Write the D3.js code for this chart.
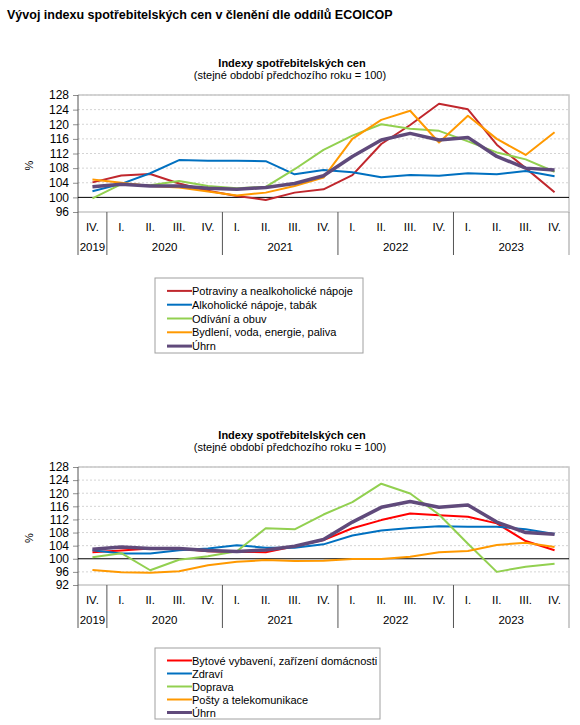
<!DOCTYPE html>
<html>
<head>
<meta charset="utf-8">
<script src="https://cdn.jsdelivr.net/npm/d3@7"></script>
<style>
  body{margin:0;background:#fff;font-family:"Liberation Sans",Arial,sans-serif;}
  svg text{font-family:"Liberation Sans",Arial,sans-serif;fill:#000;}
</style>
</head>
<body>
<svg id="chart" width="580" height="725"></svg>
<script>
//Data
const quarters = ["IV.","I.","II.","III.","IV.","I.","II.","III.","IV.","I.","II.","III.","IV.","I.","II.","III.","IV."]
const yearLabels = ["2019","2020","2021","2022","2023"]
const yearSpans = [1,4,4,4,4]

// chart 1
const potraviny = [104.1,106.0,106.4,103.8,101.8,100.4,99.3,101.3,102.2,106.1,114.6,119.8,125.6,124.1,114.4,108.0,101.4]
const alkohol   = [101.7,103.7,106.6,110.2,110.0,110.0,109.9,106.3,107.5,106.9,105.5,106.1,105.9,106.6,106.3,107.2,105.8]
const odivani   = [99.7,103.6,103.3,104.5,103.1,102.5,102.9,107.7,113.0,116.9,120.0,118.8,118.2,115.3,112.3,110.4,107.0]
const bydleni   = [104.9,104.0,103.1,102.7,101.6,100.5,101.3,103.1,105.4,116.0,121.2,123.7,115.0,122.3,116.0,111.6,117.8]
const uhrn      = [102.9,103.6,103.1,103.1,102.5,102.2,102.7,103.8,105.9,111.2,115.7,117.5,115.7,116.4,111.2,108.0,107.5]

// chart 2
const bytove  = [102.0,102.5,103.1,103.1,102.3,102.1,102.0,103.8,105.7,109.3,111.8,113.8,113.3,112.8,110.8,105.4,102.6]
const zdravi  = [102.6,101.6,101.6,102.6,103.1,104.1,103.4,103.4,104.4,107.1,108.6,109.4,109.9,109.8,109.8,109.0,107.6]
const doprava = [100.5,101.7,96.5,99.7,100.8,102.3,109.3,109.0,113.5,117.3,122.9,119.9,113.5,104.6,96.0,97.6,98.5]
const posty   = [96.6,95.9,95.7,96.2,98.0,99.1,99.6,99.3,99.4,99.9,99.9,100.6,102.0,102.4,104.2,104.9,103.6]

const ticks1 = [96,100,104,108,112,116,120,124,128]
const ticks2 = [92,96,100,104,108,112,116,120,124,128]

const svg = d3.select("#chart")

svg.append("text")
  .attr("x",7).attr("y",19)
  .attr("font-size","12.5px").attr("font-weight","bold")
  .text("Vývoj indexu spotřebitelských cen v členění dle oddílů ECOICOP")

const chart1 = {
  top:95, bottom:212, domain:[96,128], ticks:ticks1,
  series:[
    {name:"Potraviny a nealkoholické nápoje", values:potraviny, color:"#c0272d", w:2},
    {name:"Alkoholické nápoje, tabák", values:alkohol, color:"#0070c0", w:2},
    {name:"Odívání a obuv", values:odivani, color:"#92d050", w:2},
    {name:"Bydlení, voda, energie, paliva", values:bydleni, color:"#ff9900", w:2},
    {name:"Úhrn", values:uhrn, color:"#604a7b", w:3.5}
  ],
  legend:{x:155, y:278, w:208, h:75}
}
const chart2 = {
  top:467, bottom:585, domain:[92,128], ticks:ticks2,
  series:[
    {name:"Bytové vybavení, zařízení domácnosti", values:bytove, color:"#ff0000", w:2},
    {name:"Zdraví", values:zdravi, color:"#0070c0", w:2},
    {name:"Doprava", values:doprava, color:"#92d050", w:2},
    {name:"Pošty a telekomunikace", values:posty, color:"#ff9900", w:2},
    {name:"Úhrn", values:uhrn, color:"#604a7b", w:3.5}
  ],
  legend:{x:155, y:648, w:225, h:71}
}

drawChart(chart1)
drawChart(chart2)

function drawChart(c){
  const left=78, right=569
  const g = svg.append("g")
  const x = d3.scaleBand().domain(d3.range(quarters.length)).range([left,right]).paddingInner(0).paddingOuter(0)
  const y = d3.scaleLinear().domain(c.domain).range([c.bottom,c.top])
  const cx = i => x(i)+x.bandwidth()/2

  // titles
  g.append("text").attr("x",292).attr("y",c.top-28)
    .attr("text-anchor","middle").attr("font-size","11px").attr("font-weight","bold")
    .text("Indexy spotřebitelských cen")
  g.append("text").attr("x",290).attr("y",c.top-16)
    .attr("text-anchor","middle").attr("font-size","11px")
    .text("(stejné období předchozího roku = 100)")

  // grid
  g.selectAll(".grid").data(c.ticks.filter(t=>t!==c.domain[0] && t!==100)).join("line")
    .attr("x1",left).attr("x2",right)
    .attr("y1",d=>y(d)).attr("y2",d=>y(d))
    .attr("stroke","#d4d4d4").attr("stroke-dasharray","2,2")

  // plot frame (top, right, bottom)
  g.append("path")
    .attr("d",`M${left},${c.top}H${right}V${c.bottom}H${left}`)
    .attr("fill","none").attr("stroke","#c8c8c8").attr("stroke-width",1.5)

  // y axis
  const yAxis = d3.axisLeft(y).tickValues(c.ticks).tickSize(5).tickPadding(4)
  const ya = g.append("g").attr("transform",`translate(${left},0)`).call(yAxis)
  ya.select(".domain").remove()
  ya.selectAll(".tick line").attr("stroke","#909090")
  ya.selectAll(".tick text").attr("font-size","12px").attr("fill","#000")
  g.append("line").attr("x1",left).attr("x2",left).attr("y1",c.top).attr("y2",c.bottom+43)
    .attr("stroke","#555")

  g.append("text")
    .attr("transform",`translate(33,${(c.top+c.bottom)/2+12}) rotate(-90)`)
    .attr("text-anchor","middle").attr("font-size","11px").text("%")

  // baseline 100
  g.append("line").attr("x1",left).attr("x2",right).attr("y1",y(100)).attr("y2",y(100))
    .attr("stroke","#000").attr("stroke-width",1)

  // category axis
  g.selectAll(".q").data(quarters).join("text")
    .attr("x",(d,i)=>cx(i)).attr("y",c.bottom+19)
    .attr("text-anchor","middle").attr("font-size","11.5px").text(d=>d)
  let start=0
  yearLabels.forEach((yr,k)=>{
    const n=yearSpans[k]
    const x0=x(start), x1=x(start+n-1)+x.bandwidth()
    g.append("text").attr("x",(x0+x1)/2).attr("y",c.bottom+39)
      .attr("text-anchor","middle").attr("font-size","11.5px").text(yr)
    if(start>0){
      g.append("line").attr("x1",x0).attr("x2",x0).attr("y1",c.bottom).attr("y2",c.bottom+43)
        .attr("stroke","#555")
    }
    start+=n
  })
  g.append("line").attr("x1",right).attr("x2",right).attr("y1",c.bottom).attr("y2",c.bottom+43)
    .attr("stroke","#999")

  // lines
  const line = d3.line().x((d,i)=>cx(i)).y(d=>y(d))
  c.series.forEach(s=>{
    g.append("path").datum(s.values)
      .attr("d",line).attr("fill","none")
      .attr("stroke",s.color).attr("stroke-width",s.w)
      .attr("stroke-linejoin","round")
  })

  // legend
  const L=c.legend
  const lg = g.append("g").attr("transform",`translate(${L.x},${L.y})`)
  lg.append("rect").attr("width",L.w).attr("height",L.h)
    .attr("fill","#fff").attr("stroke","#a0a0a0")
  const step=(L.h-6)/c.series.length
  c.series.forEach((s,i)=>{
    const yy=7+step*i+step/2-1
    lg.append("line").attr("x1",12).attr("x2",37).attr("y1",yy).attr("y2",yy)
      .attr("stroke",s.color).attr("stroke-width",s.w>3?3:2)
    lg.append("text").attr("x",37).attr("y",yy+4).attr("font-size","11px").text(s.name)
  })
}
</script>
</body>
</html>
